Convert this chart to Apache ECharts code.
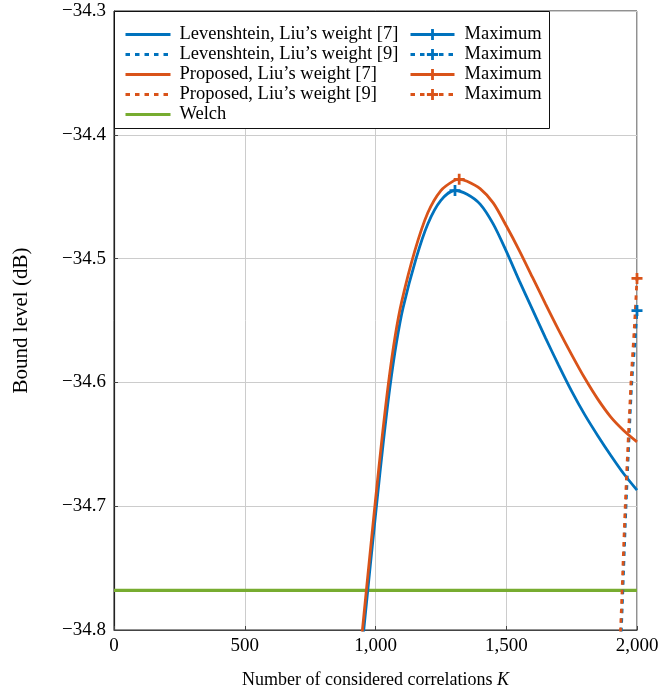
<!DOCTYPE html>
<html><head><meta charset="utf-8">
<script src="https://cdn.jsdelivr.net/npm/echarts@6/dist/echarts.min.js"></script>
<style>html,body{margin:0;padding:0;background:#fff}#c{width:672px;height:694px}</style>
</head><body><div id="c"></div>
<script>
// Levenshtein bound, Liu's weight [7]
const levK7 = [930, 955, 980, 1005, 1030, 1055, 1080, 1105, 1155, 1200, 1250, 1304, 1350, 1400, 1450, 1500, 1550, 1600, 1650, 1700, 1750, 1800, 1850, 1900, 1950, 2000];
const levV7 = [-34.853, -34.800, -34.748, -34.697, -34.648, -34.604, -34.568, -34.540, -34.500, -34.472, -34.453, -34.445, -34.448, -34.456, -34.472, -34.494, -34.518, -34.541, -34.564, -34.586, -34.607, -34.626, -34.643, -34.659, -34.674, -34.687];
// Levenshtein bound, Liu's weight [9]
const levK9 = [1930, 1940, 1958, 1980, 1992, 2000];
const levV9 = [-34.84, -34.8, -34.7, -34.6, -34.568, -34.542];
// Proposed bound, Liu's weight [7]
const proK7 = [925, 950, 975, 1000, 1025, 1050, 1075, 1100, 1150, 1200, 1250, 1300, 1320, 1350, 1400, 1450, 1500, 1550, 1600, 1650, 1700, 1750, 1800, 1850, 1900, 1950, 2000];
const proV7 = [-34.853, -34.800, -34.747, -34.695, -34.645, -34.600, -34.563, -34.535, -34.494, -34.463, -34.445, -34.437, -34.436, -34.4375, -34.4435, -34.455, -34.4735, -34.4935, -34.515, -34.5365, -34.5575, -34.5775, -34.5965, -34.6135, -34.628, -34.639, -34.648];
// Proposed bound, Liu's weight [9]
const proK9 = [1926, 1937, 1955, 1977, 1990, 2000];
const proV9 = [-34.84, -34.8, -34.7, -34.6, -34.555, -34.516];
// Welch bound
const welchK = [0, 2000];
const welchV = [-34.768, -34.768];
// Maxima
const maxK = [1304, 2000, 1320, 2000];
const maxV = [-34.445, -34.542, -34.436, -34.516];

const xTicks = [0, 500, 1000, 1500, 2000];
const yMin = -34.8, yMax = -34.3, yStep = 0.1;

const names = ['Levenshtein, Liu\u2019s weight [7]', 'Levenshtein, Liu\u2019s weight [9]',
  'Proposed, Liu\u2019s weight [7]', 'Proposed, Liu\u2019s weight [9]', 'Welch'];
const maxNames = ['max1', 'max2', 'max3', 'max4'];

const BLUE = '#0072BD', ORANGE = '#D95319', GREEN = '#77AC30';
const FONT = 'Liberation Serif';
const DOT = [4.5, 5];
const PLUS = 'path://M3,0H5V3H8V5H5V8H3V5H0V3H3Z';
const zip = (a, b) => a.map((v, i) => [v, b[i]]);

function curve(name, k, v, color, dotted) {
  return {
    name, type: 'line', data: zip(k, v), smooth: 0.3, symbol: 'none', clip: true,
    lineStyle: { color, width: 2.8, type: dotted ? DOT : 'solid', cap: 'butt' },
    itemStyle: { color }, z: 3
  };
}
function maxSeries(i, color, dotted) {
  return {
    name: maxNames[i], type: 'line', data: [[maxK[i], maxV[i]]], symbol: PLUS, symbolSize: 11,
    showSymbol: true, clip: false,
    lineStyle: { color, width: 2.8, type: dotted ? DOT : 'solid', cap: 'butt' },
    itemStyle: { color }, z: 5
  };
}

const chart = echarts.init(document.getElementById('c'), null, { renderer: 'canvas' });
chart.setOption({
  animation: false,
  backgroundColor: '#fff',
  textStyle: { fontFamily: FONT },
  grid: { left: 114, right: 35, top: 11, bottom: 64, show: true, borderColor: '#222', borderWidth: 1 },
  xAxis: {
    type: 'value', min: 0, max: 2000, interval: 500,
    name: 'Number of considered correlations {i|K}', nameLocation: 'middle', nameGap: 41,
    nameTextStyle: { fontFamily: FONT, fontSize: 18, color: '#000', rich: { i: { fontFamily: FONT, fontSize: 18, fontStyle: 'italic', color: '#000' } } },
    axisLine: { show: true, lineStyle: { color: '#444', width: 1.2 } },
    axisTick: { show: true, inside: true, length: 4, lineStyle: { color: '#444' } },
    axisLabel: { fontFamily: FONT, fontSize: 19, color: '#000', margin: 7,
      formatter: v => v.toLocaleString('en-US') },
    splitLine: { show: true, lineStyle: { color: '#cccccc', width: 1 } }
  },
  yAxis: {
    type: 'value', min: yMin, max: yMax, interval: yStep,
    name: 'Bound level (dB)', nameLocation: 'middle', nameGap: 82,
    nameTextStyle: { fontFamily: FONT, fontSize: 21, color: '#000' },
    axisLine: { show: true, lineStyle: { color: '#222', width: 1.2 } },
    axisTick: { show: true, inside: true, length: 4, lineStyle: { color: '#444' } },
    axisLabel: { fontFamily: FONT, fontSize: 19, color: '#000', margin: 8,
      formatter: v => (v < 0 ? '\u2212' : '') + Math.abs(v).toFixed(1) },
    splitLine: { show: true, lineStyle: { color: '#cccccc', width: 1 } }
  },
  graphic: [{
    type: 'rect', z: 3, silent: true,
    shape: { x: 114.5, y: 11.5, width: 435, height: 117 },
    style: { fill: '#fff', stroke: '#111', lineWidth: 1 }
  }],
  legend: [{
    data: names, orient: 'vertical', left: 124, top: 25, padding: 0,
    itemWidth: 45, itemHeight: 14, itemGap: 1, z: 6,
    itemStyle: { opacity: 0 },
    lineStyle: { width: 3 },
    textStyle: { fontFamily: FONT, fontSize: 18.5, color: '#000', lineHeight: 17, padding: [0, 0, 0, 4] },
    selectedMode: false
  }, {
    data: maxNames, orient: 'vertical', left: 409, top: 25, padding: 0,
    itemWidth: 44, itemHeight: 14, itemGap: 1, z: 6,
    lineStyle: { width: 3 },
    formatter: () => 'Maximum',
    textStyle: { fontFamily: FONT, fontSize: 18.5, color: '#000', lineHeight: 17, padding: [0, 0, 0, 5] },
    selectedMode: false
  }],
  series: [
    curve(names[0], levK7, levV7, BLUE, false),
    curve(names[1], levK9, levV9, BLUE, true),
    curve(names[2], proK7, proV7, ORANGE, false),
    curve(names[3], proK9, proV9, ORANGE, true),
    { name: names[4], type: 'line', data: zip(welchK, welchV), symbol: 'none',
      lineStyle: { color: GREEN, width: 3.2 }, itemStyle: { color: GREEN }, z: 2 },
    maxSeries(0, BLUE, false),
    maxSeries(1, BLUE, true),
    maxSeries(2, ORANGE, false),
    maxSeries(3, ORANGE, true)
  ]
});
</script>
</body></html>
